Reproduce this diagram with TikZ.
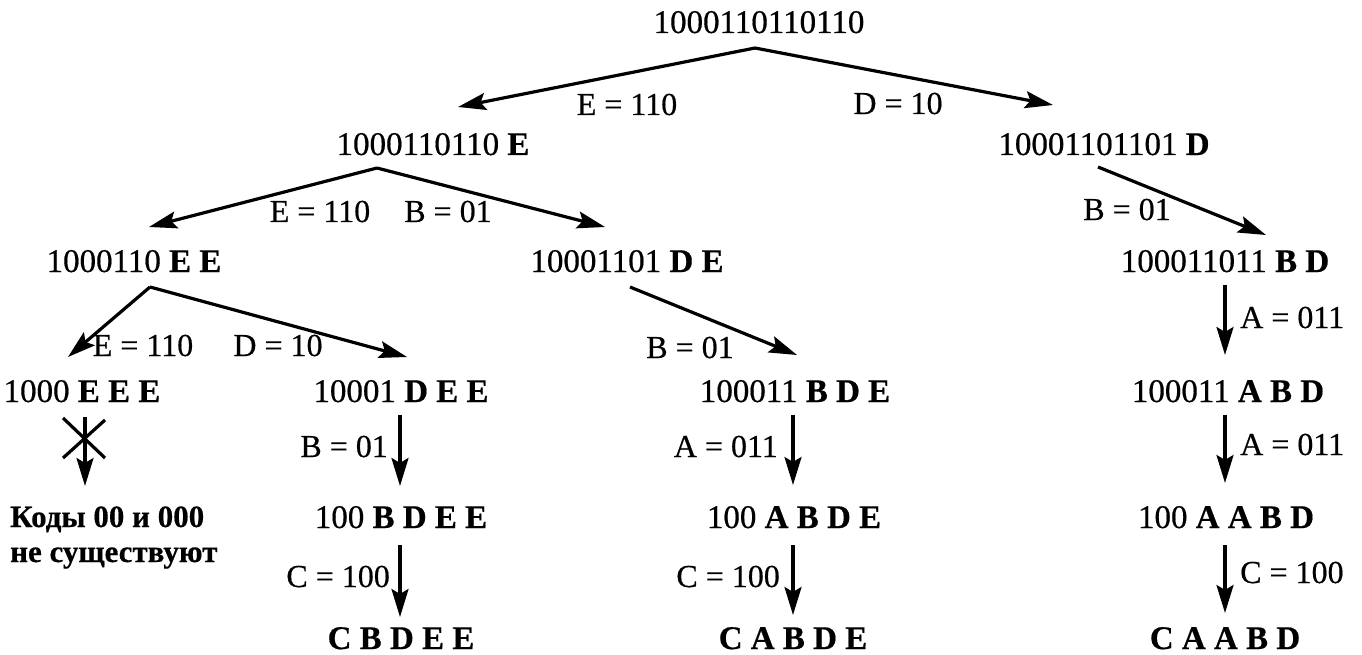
\documentclass[tikz,border=0pt]{standalone}
\usepackage{fontspec}
\setmainfont{Liberation Serif}[FakeBold=0.5]
\usetikzlibrary{arrows.meta}
\begin{document}
\begin{tikzpicture}[x=1pt,y=-1pt,
  st/.style={anchor=base,inner sep=0pt,font=\fontsize{33}{36}\selectfont},
  lb/.style={anchor=base,inner sep=0pt,font=\fontsize{32}{36}\selectfont},
  lbe/.style={lb,anchor=base east},
  lbw/.style={lb,anchor=base west},
  note/.style={anchor=base west,inner sep=0pt,font=\fontsize{31}{35}\selectfont\bfseries},
  arr/.style={line width=3.2pt,-{Stealth[length=28pt,width=17pt,inset=5pt]}},
  crossline/.style={line width=3.2pt}]
\useasboundingbox (0,0) rectangle (1362,655);
% nodes
\node[st] (r)    at (759,33)  {1000110110110};
\node[st] (a)    at (433,155) {1000110110 \textbf{E}};
\node[st] (b)    at (1104,155) {10001101101 \textbf{D}};
\node[st] (aa)   at (134,272) {1000110 \textbf{E E}};
\node[st] (ab)   at (627,272) {10001101 \textbf{D E}};
\node[st] (bb)   at (1225,272) {100011011 \textbf{B D}};
\node[st] (aaa)  at (82,402)  {1000 \textbf{E E E}};
\node[st] (aab)  at (401,402) {10001 \textbf{D E E}};
\node[st] (abb)  at (795,402) {100011 \textbf{B D E}};
\node[st] (bba)  at (1228,402) {100011 \textbf{A B D}};
\node[st] (aab2) at (401,528) {100 \textbf{B D E E}};
\node[st] (abb2) at (794,528) {100 \textbf{A B D E}};
\node[st] (bba2) at (1226,528) {100 \textbf{A A B D}};
\node[st] (aab3) at (401,649) {\textbf{C B D E E}};
\node[st] (abb3) at (793,649) {\textbf{C A B D E}};
\node[st] (bba3) at (1225,649) {\textbf{C A A B D}};
\node[note] (n1) at (10,527) {Коды 00 и 000};
\node[note] (n2) at (10,562) {не существуют};
% arrows
\draw[arr] ([shift={(-4,15)}]r.base) -- ([shift={(25,-48)}]a.base);
\draw[arr] ([shift={(-4,15)}]r.base) -- ([shift={(-51,-50)}]b.base);
\draw[arr] ([shift={(-56,13)}]a.base) -- ([shift={(15,-45)}]aa.base);
\draw[arr] ([shift={(-56,13)}]a.base) -- ([shift={(-22,-45)}]ab.base);
\draw[arr] ([shift={(-6,12)}]b.base) -- ([shift={(41,-37)}]bb.base);
\draw[arr] ([shift={(16,15)}]aa.base) -- ([shift={(-14,-45)}]aaa.base);
\draw[arr] ([shift={(16,15)}]aa.base) -- ([shift={(6,-45)}]aab.base);
\draw[arr] ([shift={(3,15)}]ab.base) -- ([shift={(2,-47)}]abb.base);
\draw[arr] ([shift={(0,13)}]bb.base) -- ([shift={(-3,-47)}]bba.base);
\draw[arr] ([shift={(3,15)}]aaa.base) -- ([shift={(75,-41)}]n1.base west);
\draw[arr] ([shift={(-1,13)}]aab.base) -- ([shift={(-1,-42)}]aab2.base);
\draw[arr] ([shift={(-1,17)}]aab2.base) -- ([shift={(-1,-32)}]aab3.base);
\draw[arr] ([shift={(-2,13)}]abb.base) -- ([shift={(-1,-43)}]abb2.base);
\draw[arr] ([shift={(-1,17)}]abb2.base) -- ([shift={(0,-34)}]abb3.base);
\draw[arr] ([shift={(-3,13)}]bba.base) -- ([shift={(-1,-45)}]bba2.base);
\draw[arr] ([shift={(-1,17)}]bba2.base) -- ([shift={(0,-36)}]bba3.base);
% cross mark
\coordinate (xc) at (84,438);
\draw[crossline] ([shift={(-21,-20)}]xc) -- ([shift={(21,20)}]xc);
\draw[crossline] ([shift={(21,-18)}]xc) -- ([shift={(-21,20)}]xc);
% labels
\node[lb] (l1) at (627,115) {E = 110};
\node[lb] (l2) at (898,114) {D = 10};
\node[lb] (l3) at (320,222) {E = 110};
\node[lb] (l4) at (448,222) {B = 01};
\node[lb] (l5) at (1127,220) {B = 01};
\node[lb] (l6) at (143,356) {E = 110};
\node[lb] (l7) at (278,356) {D = 10};
\node[lb] (l8) at (690,358) {B = 01};
\node[lbw] (l9) at (1240,328) {A = 011};
\node[lbe] (l10) at (388,457) {B = 01};
\node[lbe] (l11) at (390,587) {C = 100};
\node[lbe] (l12) at (778,457) {A = 011};
\node[lbe] (l13) at (780,587) {C = 100};
\node[lbw] (l14) at (1240,455) {A = 011};
\node[lbw] (l15) at (1240,583) {C = 100};
\end{tikzpicture}
\end{document}
